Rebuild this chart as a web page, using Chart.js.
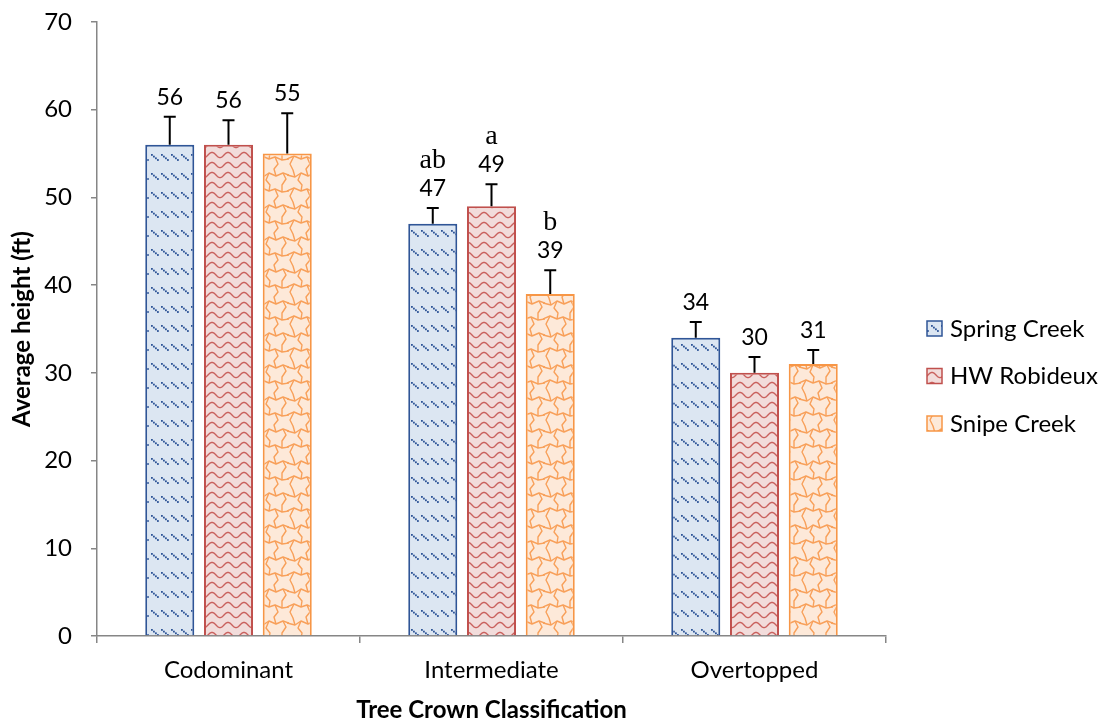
<!DOCTYPE html>
<html><head><meta charset="utf-8">
<script src="https://cdn.jsdelivr.net/npm/chart.js@4.4.0/dist/chart.umd.min.js"></script>
<style>html,body{margin:0;padding:0;background:#fff}#wrap{width:1100px;height:723px}</style>
</head><body><div id="wrap"><canvas id="c" width="1100" height="723"></canvas></div>
<script>
const categories = ['Codominant', 'Intermediate', 'Overtopped'];
const seriesNames = ['Spring Creek', 'HW Robideux', 'Snipe Creek'];
const springCreek = [56, 47, 34];
const hwRobideux = [56, 49, 30];
const snipeCreek = [55, 39, 31];
const springCreekErr = [3.2, 1.8, 1.8];
const hwRobideuxErr = [2.8, 2.5, 1.8];
const snipeCreekErr = [4.6, 2.7, 1.6];
const springCreekLetters = ['', 'ab', ''];
const hwRobideuxLetters = ['', 'a', ''];
const snipeCreekLetters = ['', 'b', ''];
const yTicks = [0, 10, 20, 30, 40, 50, 60, 70];

const SANS = 'Lato, "Open Sans", sans-serif';
const SERIF = '"Liberation Serif", "DejaVu Serif", serif';

function makeTile(w, h, bg, draw) {
  const c = document.createElement('canvas');
  c.width = w; c.height = h;
  const g = c.getContext('2d');
  g.fillStyle = bg; g.fillRect(0, 0, w, h);
  draw(g);
  return c;
}
function polyWrap(g, pts, w, h) {
  for (const ox of [-w, 0, w]) for (const oy of [-h, 0, h]) {
    g.beginPath();
    pts.forEach((p, i) => { if (i === 0) g.moveTo(p[0] + ox, p[1] + oy); else g.lineTo(p[0] + ox, p[1] + oy); });
    g.stroke();
  }
}
const ctx0 = document.getElementById('c').getContext('2d');
const blueTile = makeTile(10, 19, '#dce6f2', g => {
  g.fillStyle = '#2f5597';
  for (let i = 0; i < 4; i++) g.fillRect(1 + i * 2, 2 + i * 1.7, 1.8, 1.8);
});
const redTile = makeTile(16, 10, '#f2dcdb', g => {
  g.strokeStyle = '#c9605d'; g.lineWidth = 1.4;
  g.beginPath();
  for (let x = -1; x <= 17; x += 0.5) {
    const y = 5 - 2.6 * Math.sin(2 * Math.PI * x / 16);
    if (x === -1) g.moveTo(x, y); else g.lineTo(x, y);
  }
  g.stroke();
});
const orangeTile = makeTile(32, 32, '#fde9d9', g => {
  g.strokeStyle = '#f8a05a'; g.lineWidth = 1.4; g.lineJoin = 'round';
  const lines = [
    [[-1, 15], [7, 17], [13, 13], [20, 16], [27, 13], [33, 15]],
    [[-1, 31], [6, 28], [13, 31], [19, 29], [26, 32], [33, 31]],
    [[6, -4], [2, 4], [5, 10], [7, 17]],
    [[19, -3], [22, 4], [18, 9], [20, 16]],
    [[13, 13], [10, 20], [14, 25], [13, 31]],
    [[27, 13], [30, 19], [26, 25], [26, 32]]
  ];
  lines.forEach(l => polyWrap(g, l, 32, 32));
});
const bluePat = ctx0.createPattern(blueTile, 'repeat');
const redPat = ctx0.createPattern(redTile, 'repeat');
const orangePat = ctx0.createPattern(orangeTile, 'repeat');

const errs = [springCreekErr, hwRobideuxErr, snipeCreekErr];
const letters = [springCreekLetters, hwRobideuxLetters, snipeCreekLetters];

const annot = {
  id: 'annot',
  afterDatasetsDraw(chart) {
    const ctx = chart.ctx;
    const ys = chart.scales.y;
    ctx.save();
    chart.data.datasets.forEach((ds, di) => {
      const meta = chart.getDatasetMeta(di);
      meta.data.forEach((bar, i) => {
        const v = ds.data[i];
        const top = ys.getPixelForValue(v + errs[di][i]);
        ctx.strokeStyle = '#000'; ctx.lineWidth = 2;
        ctx.beginPath();
        ctx.moveTo(bar.x, bar.y); ctx.lineTo(bar.x, top);
        ctx.moveTo(bar.x - 6, top); ctx.lineTo(bar.x + 6, top);
        ctx.stroke();
        ctx.fillStyle = '#000';
        ctx.textAlign = 'center'; ctx.textBaseline = 'alphabetic';
        ctx.font = '23px ' + SANS;
        const nb = top - 12;
        ctx.fillText(String(v), bar.x, nb);
        if (letters[di][i]) {
          ctx.font = '28px ' + SERIF;
          ctx.fillText(letters[di][i], bar.x, nb - 28);
        }
      });
    });
    // legend
    const lx = 927, ly0 = 328, step = 47.5;
    chart.data.datasets.forEach((ds, di) => {
      const y = ly0 + di * step;
      ctx.fillStyle = ds.backgroundColor;
      ctx.fillRect(lx, y - 7, 15, 15);
      ctx.strokeStyle = ds.borderColor; ctx.lineWidth = 1.5;
      ctx.strokeRect(lx, y - 7, 15, 15);
      ctx.fillStyle = '#000';
      ctx.font = '24px ' + SANS;
      ctx.textAlign = 'left'; ctx.textBaseline = 'middle';
      ctx.fillText(ds.label, lx + 23, y + 1);
    });
    ctx.restore();
  }
};

new Chart(document.getElementById('c'), {
  type: 'bar',
  data: {
    labels: categories,
    datasets: [
      { label: seriesNames[0], data: springCreek, backgroundColor: bluePat, borderColor: '#2f5597', borderWidth: 2 },
      { label: seriesNames[1], data: hwRobideux, backgroundColor: redPat, borderColor: '#c0504d', borderWidth: 2 },
      { label: seriesNames[2], data: snipeCreek, backgroundColor: orangePat, borderColor: '#f79646', borderWidth: 2 }
    ]
  },
  options: {
    responsive: false,
    animation: false,
    devicePixelRatio: 1,
    layout: { padding: { left: 0, top: 22, right: 214, bottom: 0 } },
    categoryPercentage: 0.67,
    barPercentage: 0.835,
    plugins: { legend: { display: false }, tooltip: { enabled: false } },
    scales: {
      x: {
        grid: { offset: true, drawOnChartArea: false, color: '#868686', tickLength: 7, lineWidth: 1.5 },
        border: { color: '#868686', width: 1.5 },
        ticks: { color: '#000', font: { family: SANS, size: 24 }, padding: 13 },
        title: { display: true, text: 'Tree Crown Classification', color: '#000', font: { family: SANS, size: 24, weight: 'bold' }, padding: { top: 0, bottom: -2 } },
        afterFit(s) { s.height = 87; s.paddingLeft = 0; s.paddingRight = 0; }
      },
      y: {
        min: 0, max: 70,
        afterBuildTicks(s) { s.ticks = yTicks.map(v => ({ value: v })); },
        grid: { drawOnChartArea: false, color: '#868686', tickLength: 6, lineWidth: 1.5 },
        border: { color: '#868686', width: 1.5 },
        ticks: { color: '#000', font: { family: SANS, size: 24 }, padding: 19 },
        title: { display: true, text: 'Average height (ft)', color: '#000', font: { family: SANS, size: 24, weight: 'bold' }, padding: { top: 8, bottom: 0 } },
        afterFit(s) { s.width = 97; s.paddingTop = 0; s.paddingBottom = 0; }
      }
    }
  },
  plugins: [annot]
});
</script>
</body></html>
